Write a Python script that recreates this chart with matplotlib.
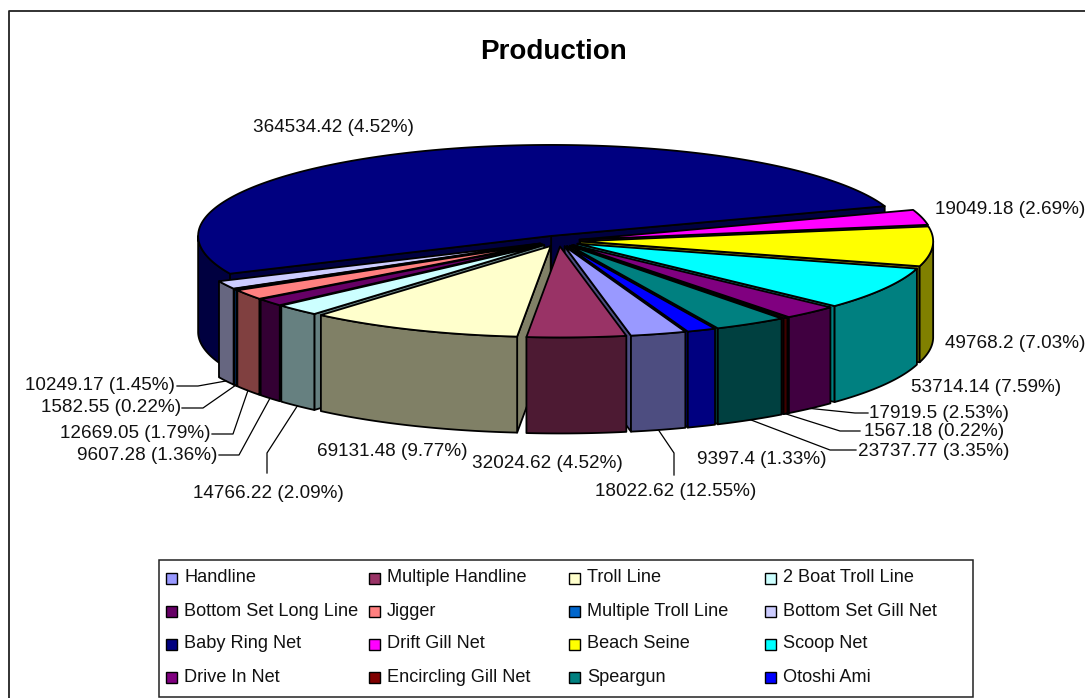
import numpy as np
import matplotlib
matplotlib.use('Agg')
import matplotlib.pyplot as plt
from matplotlib.patches import Polygon, Rectangle

plt.rcParams['font.family'] = ['Liberation Sans', 'DejaVu Sans']

# data, in pie order (clockwise)
categories = ['Handline', 'Multiple Handline', 'Troll Line', '2 Boat Troll Line',
              'Bottom Set Long Line', 'Jigger', 'Multiple Troll Line', 'Bottom Set Gill Net',
              'Baby Ring Net', 'Drift Gill Net', 'Beach Seine', 'Scoop Net',
              'Drive In Net', 'Encircling Gill Net', 'Speargun', 'Otoshi Ami']
values = [18022.62, 32024.62, 69131.48, 14766.22,
          9607.28, 12669.05, 1582.55, 10249.17,
          364534.42, 19049.18, 49768.2, 53714.14,
          17919.5, 1567.18, 23737.77, 9397.4]
# percentages as printed on the chart
percents = ['12.55', '4.52', '9.77', '2.09',
            '1.36', '1.79', '0.22', '1.45',
            '4.52', '2.69', '7.03', '7.59',
            '2.53', '0.22', '3.35', '1.33']
colors = ['#9999FF', '#993366', '#FFFFCC', '#CCFFFF',
          '#660066', '#FF8080', '#0066CC', '#CCCCFF',
          '#000080', '#FF00FF', '#FFFF00', '#00FFFF',
          '#800080', '#800000', '#008080', '#0000FF']

# pie geometry in pixels
CX, CY = 559, 241
RX, RY = 353, 91
DEPTH = 96
EXPLODE = 0.06
START = 160.0

# label left edge / centre y, and the leader elbow and end (None = no leader)
label_pos = [(595, 491), (472, 464), (317, 452), (193, 494),
             (77, 455), (60, 434), (41, 408), (25, 386),
             (253, 128), (935, 209), (945, 344), (911, 387),
             (869, 414), (864, 432), (858, 451), (697, 460)]
leaders = [[(674, 453), (674, 475)], None, None, [(267, 453), (267, 473)],
           [(239, 455), (219, 455)], [(233, 434), (212, 434)], [(203, 408), (182, 408)], [(198, 386), (177, 386)],
           None, None, None, None,
           [(855, 413), (868, 413)], [(840, 431), (860, 431)], [(830, 450), (856, 450)], None]

fig = plt.figure(figsize=(10.85, 6.98), dpi=100)
ax = fig.add_axes([0, 0, 1, 1])
ax.set_xlim(0, 1085)
ax.set_ylim(698, 0)
ax.axis('off')


def rim(t, off):
    t = np.radians(t)
    return off[0] + RX * np.sin(t), off[1] - RY * np.cos(t)


def shade(c):
    r, g, b = matplotlib.colors.to_rgb(c)
    return (r * .5, g * .5, b * .5)


def face(pts, color):
    ax.add_patch(Polygon(pts, closed=True, fc=color, ec='black', lw=1.3, joinstyle='round'))


def draw_slice(ts, te, color):
    tm = np.radians((ts + te) / 2)
    off = (CX + EXPLODE * RX * np.sin(tm), CY - EXPLODE * RY * np.cos(tm))
    dark = shade(color)

    # cut faces which look at the viewer
    for t, show in ((te, np.sin(np.radians(te)) > 0), (ts, np.sin(np.radians(ts)) < 0)):
        if show:
            x, y = rim(t, off)
            face([off, (x, y), (x, y + DEPTH), (off[0], off[1] + DEPTH)], dark)

    # outer wall, front half only
    for lo, hi in ((90, 270), (450, 630)):
        a, b = max(ts, lo), min(te, hi)
        if a < b:
            tt = np.linspace(a, b, 60)
            x, y = rim(tt, off)
            top = np.column_stack([x, y])
            bot = np.column_stack([x, y + DEPTH])[::-1]
            face(np.vstack([top, bot]), dark)

    tt = np.linspace(ts, te, max(int(te - ts) * 2, 4))
    x, y = rim(tt, off)
    face(np.vstack([[off], np.column_stack([x, y])]), color)
    return off


edges = START + 360 * np.concatenate([[0], np.cumsum(values)]) / np.sum(values)
mids = (edges[:-1] + edges[1:]) / 2
offsets = {}
for i in sorted(range(len(values)), key=lambda k: -np.cos(np.radians(mids[k]))):
    offsets[i] = draw_slice(edges[i], edges[i + 1], colors[i])

# labels and leader lines
for i, v in enumerate(values):
    ax.text(label_pos[i][0], label_pos[i][1], f'{v} ({percents[i]}%)',
            fontsize=13.6, ha='left', va='center', color='#111111')
    if leaders[i] is not None:
        x, y = rim(mids[i], offsets[i])
        pts = [(x, y + DEPTH)] + leaders[i]
        ax.plot([p[0] for p in pts], [p[1] for p in pts], color='black', lw=0.9)

ax.text(554, 52, 'Production', fontsize=20, fontweight='bold', ha='center', va='center')

# chart frame: right and bottom sides are cut off in the original
ax.plot([9, 9, 1085], [698, 11, 11], color='#222222', lw=1.3)

# legend, 4 columns
ax.add_patch(Rectangle((159, 560), 814, 137, fc='white', ec='#222222', lw=1.1))
col_x = [166, 369, 569, 765]
row_y = [578, 611, 644, 677]
for i, name in enumerate(categories):
    x, y = col_x[i % 4], row_y[i // 4]
    ax.add_patch(Rectangle((x, y - 5), 11, 11, fc=colors[i], ec='black', lw=1))
    ax.text(x + 18, y, name, fontsize=13.1, ha='left', va='center', color='#111111')

fig.savefig('out.png', dpi=100)
